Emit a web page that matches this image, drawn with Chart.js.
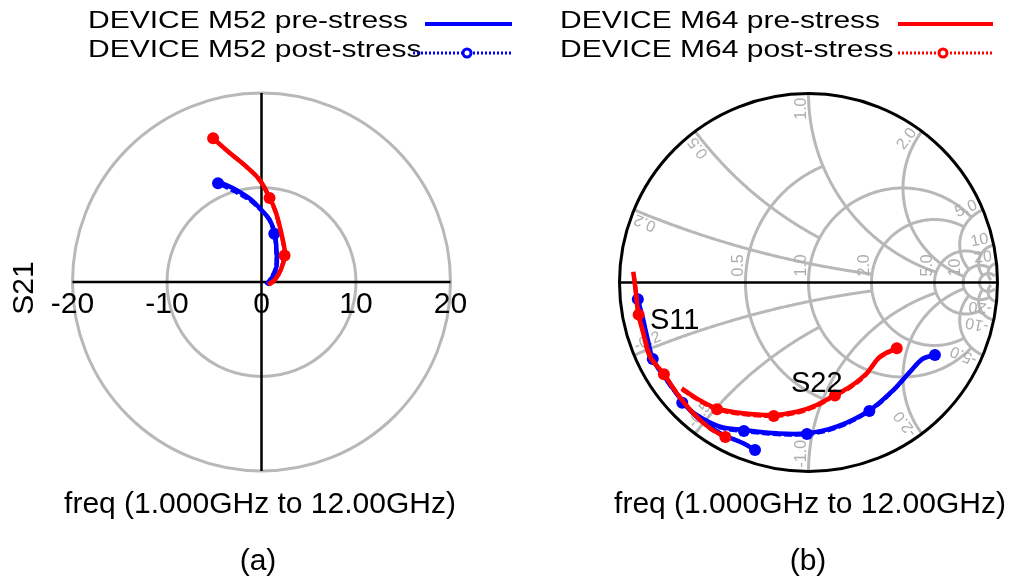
<!DOCTYPE html>
<html>
<head>
<meta charset="utf-8">
<title>S-parameters before and after stress</title>
<script src="https://cdn.jsdelivr.net/npm/chart.js@4.4.1/dist/chart.umd.min.js"></script>
<style>
  html, body { margin: 0; padding: 0; background: #fff; }
  #wrap { position: relative; width: 1015px; height: 585px; }
  #wrap canvas { position: absolute; left: 0; top: 0; }
</style>
</head>
<body>
<div id="wrap">
  <canvas id="polar" width="1015" height="585"></canvas>
  <canvas id="smith" width="1015" height="585"></canvas>
</div>
<script>
// S21 as (real, imag), 1 GHz -> 12 GHz
const s21M52Pre  = [[0.53,-0.32],[1.2,0.6],[1.59,1.62],[1.6,3.2],[1.41,5.08],[0.88,6.56],[0,7.62],[-1.06,8.68],[-2.1,9.4],[-3.0,9.92],[-4.59,10.61]];
const s21M52Post = [[0.5,-0.3],[1.15,0.65],[1.55,1.7],[1.55,3.3],[1.35,5.1],[0.8,6.6],[-0.1,7.65],[-1.15,8.6],[-2.2,9.25],[-3.15,9.75],[-4.6,10.45]];
const s21M64Pre  = [[0.74,-0.29],[1.41,0.21],[2.04,1.27],[2.47,2.78],[2.36,3.92],[1.94,5.85],[1.51,7.41],[0.88,8.89],[-0.18,10.79],[-1.59,12.2],[-3.35,13.65],[-5.12,15.2]];
const s21M64Post = [[0.72,-0.27],[1.38,0.25],[2.0,1.3],[2.44,2.8],[2.33,3.95],[1.9,5.88],[1.47,7.45],[0.85,8.9],[-0.22,10.8],[-1.62,12.22],[-3.38,13.66],[-5.12,15.2]];
const s21M52Marks = [4, 10];
const s21M64Marks = [3, 7, 11];

// S11 / S22 as reflection coefficient (re, im)
const s11M52Pre  = [[-0.901,-0.093],[-0.887,-0.15],[-0.874,-0.198],[-0.850,-0.305],[-0.821,-0.410],[-0.750,-0.516],[-0.671,-0.622],[-0.592,-0.710],[-0.468,-0.798],[-0.345,-0.851],[-0.283,-0.886]];
const s11M52Post = [[-0.903,-0.088],[-0.889,-0.146],[-0.876,-0.195],[-0.853,-0.300],[-0.824,-0.405],[-0.755,-0.512],[-0.676,-0.618],[-0.597,-0.706],[-0.472,-0.794],[-0.350,-0.848],[-0.283,-0.886]];
const s11M64Pre  = [[-0.927,0.057],[-0.913,-0.057],[-0.901,-0.163],[-0.874,-0.269],[-0.839,-0.393],[-0.768,-0.480],[-0.697,-0.586],[-0.610,-0.692],[-0.521,-0.771],[-0.442,-0.816]];
const s11M64Post = [[-0.925,0.045],[-0.911,-0.065],[-0.899,-0.170],[-0.870,-0.275],[-0.832,-0.398],[-0.765,-0.486],[-0.692,-0.590],[-0.605,-0.696],[-0.518,-0.774],[-0.440,-0.818]];
const s11M52Marks = [0, 4, 10];
const s11M64Marks = [2, 5, 9];

const s22M52Pre  = [[-0.671,-0.631],[-0.592,-0.701],[-0.468,-0.763],[-0.345,-0.780],[-0.168,-0.798],[-0.010,-0.798],[0.149,-0.763],[0.325,-0.675],[0.449,-0.569],[0.537,-0.472],[0.607,-0.401],[0.669,-0.384]];
const s22M52Post = [[-0.668,-0.636],[-0.588,-0.706],[-0.465,-0.768],[-0.342,-0.786],[-0.165,-0.803],[-0.008,-0.802],[0.150,-0.768],[0.322,-0.680],[0.445,-0.575],[0.533,-0.478],[0.603,-0.406],[0.669,-0.384]];
const s22M64Pre  = [[-0.671,-0.560],[-0.592,-0.613],[-0.486,-0.666],[-0.345,-0.692],[-0.186,-0.701],[-0.062,-0.684],[0.043,-0.648],[0.140,-0.595],[0.220,-0.551],[0.308,-0.480],[0.378,-0.393],[0.467,-0.348]];
const s22M64Post = [[-0.668,-0.566],[-0.589,-0.618],[-0.484,-0.671],[-0.343,-0.697],[-0.184,-0.706],[-0.060,-0.689],[0.045,-0.652],[0.140,-0.598],[0.222,-0.555],[0.306,-0.486],[0.373,-0.400],[0.467,-0.348]];
const s22M52Marks = [0, 3, 5, 7, 11];
const s22M64Marks = [2, 4, 7, 11];

// polar axis
const polarTicks = [-20, -10, 0, 10, 20];
const polarRings = [10, 20];

// smith grid: resistance circles / reactance arcs and where each one stops
const smithR      = [0.5, 1, 2, 5, 10, 20];
const smithRStop  = [1, 5, 5, 10, 20, 50];
const smithX      = [0.2, 0.5, 1, 2, 5, 10, 20];
const smithXStop  = [2, 1, 5, 10, 10, 20, 50];
const smithRLabel = ['0.5', '1.0', '2.0', '5.0', '10'];
const smithXLabel = ['0.2', '0.5', '1.0', '2.0', '5.0', '10', '20'];

const BLUE = '#0000ff';
const RED = '#ff0000';
const GRID = '#b8b8b8';
const FONT = '"Liberation Sans", Arial, sans-serif';

const toXY = pts => pts.map(p => ({ x: p[0], y: p[1] }));

// z = r + jx  ->  gamma = (z - 1) / (z + 1)
function gamma(r, x) {
    const den = (r + 1) * (r + 1) + x * x;
    return [(r * r - 1 + x * x) / den, (2 * x) / den];
}

function makeSet(label, pts, color, marks, post) {
    return {
        label: label,
        data: toXY(pts),
        showLine: true,
        borderColor: color,
        backgroundColor: color,
        borderWidth: post ? 4 : 4.5,
        borderDash: post ? [8, 3] : [],
        tension: 0.35,
        clip: false,
        pointRadius: ctx => (post && marks.includes(ctx.dataIndex)) ? 6 : 0,
        pointBackgroundColor: color,
        pointBorderWidth: 0
    };
}

function baseOptions(padding, range) {
    return {
        responsive: false,
        animation: false,
        events: [],
        layout: { padding: padding },
        plugins: { legend: { display: false }, tooltip: { enabled: false } },
        scales: {
            x: { type: 'linear', min: -range, max: range, display: false },
            y: { type: 'linear', min: -range, max: range, display: false }
        }
    };
}

// legend, captions and polar grid
const polarDecor = {
    id: 'polarDecor',
    beforeDatasetsDraw(chart) {
        const ctx = chart.ctx;
        const xs = chart.scales.x, ys = chart.scales.y;
        const cx = xs.getPixelForValue(0), cy = ys.getPixelForValue(0);
        ctx.save();
        ctx.lineWidth = 3;
        ctx.strokeStyle = GRID;
        polarRings.forEach(r => {
            ctx.beginPath();
            ctx.arc(cx, cy, xs.getPixelForValue(r) - cx, 0, Math.PI * 2);
            ctx.stroke();
        });
        const lo = polarTicks[0], hi = polarTicks[polarTicks.length - 1];
        ctx.strokeStyle = '#000';
        ctx.lineWidth = 2.5;
        ctx.beginPath();
        ctx.moveTo(xs.getPixelForValue(lo), cy);
        ctx.lineTo(xs.getPixelForValue(hi), cy);
        ctx.moveTo(cx, ys.getPixelForValue(hi));
        ctx.lineTo(cx, ys.getPixelForValue(lo));
        ctx.stroke();

        ctx.fillStyle = '#000';
        ctx.font = '30px ' + FONT;
        ctx.textAlign = 'center';
        ctx.textBaseline = 'alphabetic';
        polarTicks.forEach(t => ctx.fillText(String(t), xs.getPixelForValue(t), 313));

        ctx.save();
        ctx.translate(33, 288);
        ctx.rotate(-Math.PI / 2);
        ctx.fillText('S21', 0, 0);
        ctx.restore();

        ctx.fillText('freq (1.000GHz to 12.00GHz)', 260, 513);
        ctx.fillText('(a)', 258, 570);
        ctx.restore();
    },
    afterDraw(chart) {
        const ctx = chart.ctx;
        const items = [
            { text: 'DEVICE M52 pre-stress',  x: 88,  y: 28, color: BLUE, x0: 425, x1: 512, mark: 0 },
            { text: 'DEVICE M52 post-stress', x: 88,  y: 57, color: BLUE, x0: 413, x1: 512, mark: 467 },
            { text: 'DEVICE M64 pre-stress',  x: 560, y: 28, color: RED,  x0: 898, x1: 993, mark: 0 },
            { text: 'DEVICE M64 post-stress', x: 560, y: 57, color: RED,  x0: 898, x1: 993, mark: 943 }
        ];
        ctx.save();
        items.forEach(it => {
            ctx.save();
            ctx.translate(it.x, it.y);
            ctx.scale(1.25, 1);
            ctx.fillStyle = '#000';
            ctx.font = '24px ' + FONT;
            ctx.textAlign = 'left';
            ctx.fillText(it.text, 0, 0);
            ctx.restore();

            const ly = it.y - 4;
            ctx.strokeStyle = it.color;
            ctx.lineWidth = it.mark ? 3 : 4;
            ctx.setLineDash(it.mark ? [2, 2] : []);
            ctx.beginPath();
            ctx.moveTo(it.x0, ly);
            ctx.lineTo(it.x1, ly);
            ctx.stroke();
            if (it.mark) {
                ctx.setLineDash([]);
                ctx.fillStyle = '#fff';
                ctx.lineWidth = 3;
                ctx.beginPath();
                ctx.arc(it.mark, ly, 4, 0, Math.PI * 2);
                ctx.fill();
                ctx.stroke();
            }
        });
        ctx.restore();
    }
};

// smith chart grid, labels and captions
const smithDecor = {
    id: 'smithDecor',
    beforeDatasetsDraw(chart) {
        const ctx = chart.ctx;
        const xs = chart.scales.x, ys = chart.scales.y;
        const px = g => [xs.getPixelForValue(g[0]), ys.getPixelForValue(g[1])];
        const cx = xs.getPixelForValue(0), cy = ys.getPixelForValue(0);
        const R = xs.getPixelForValue(1) - cx;
        const n = 240;

        ctx.save();
        ctx.lineWidth = 3;
        ctx.strokeStyle = GRID;
        ctx.lineJoin = 'round';

        // resistance circles
        smithR.forEach((r, i) => {
            const stop = smithRStop[i];
            ctx.beginPath();
            for (let k = 0; k <= n; k++) {
                const p = px(gamma(r, -stop + 2 * stop * k / n));
                k ? ctx.lineTo(p[0], p[1]) : ctx.moveTo(p[0], p[1]);
            }
            ctx.stroke();
        });
        // reactance arcs, both signs
        smithX.forEach((x, i) => {
            const stop = smithXStop[i];
            [x, -x].forEach(xv => {
                ctx.beginPath();
                for (let k = 0; k <= n; k++) {
                    const p = px(gamma(stop * k / n, xv));
                    k ? ctx.lineTo(p[0], p[1]) : ctx.moveTo(p[0], p[1]);
                }
                ctx.stroke();
            });
        });

        // grid labels
        ctx.fillStyle = '#adadad';
        ctx.font = '16px ' + FONT;
        ctx.textBaseline = 'alphabetic';
        smithRLabel.forEach((t, i) => {
            const p = px(gamma(smithR[i], 0));
            ctx.save();
            ctx.translate(p[0] - 3, cy - 6);
            ctx.rotate(-Math.PI / 2);
            ctx.textAlign = 'left';
            ctx.fillText(t, 0, 0);
            ctx.restore();
        });
        smithXLabel.forEach((t, i) => {
            const g = gamma(0, smithX[i]);
            const e = px(g);
            // upper half: text runs outward and ends at the rim
            ctx.save();
            ctx.translate(e[0], e[1]);
            ctx.rotate(Math.atan2(-g[1], g[0]));
            ctx.textAlign = 'right';
            ctx.fillText(t, -4, -3);
            ctx.restore();
            // lower half: text starts at the rim and runs inward
            const gl = [g[0], -g[1]];
            const el = px(gl);
            ctx.save();
            ctx.translate(el[0], el[1]);
            ctx.rotate(Math.atan2(gl[1], -gl[0]));
            ctx.textAlign = 'left';
            ctx.fillText('-' + t, 4, -3);
            ctx.restore();
        });

        // rim and real axis
        ctx.strokeStyle = '#000';
        ctx.lineWidth = 3;
        ctx.beginPath();
        ctx.arc(cx, cy, R, 0, Math.PI * 2);
        ctx.stroke();
        ctx.lineWidth = 2.5;
        ctx.beginPath();
        ctx.moveTo(cx - R, cy);
        ctx.lineTo(cx + R, cy);
        ctx.stroke();

        ctx.fillStyle = '#000';
        ctx.font = '30px ' + FONT;
        ctx.textAlign = 'center';
        ctx.fillText('freq (1.000GHz to 12.00GHz)', 810, 513);
        ctx.fillText('(b)', 808, 570);
        ctx.restore();
    },
    afterDatasetsDraw(chart) {
        const ctx = chart.ctx;
        ctx.save();
        ctx.fillStyle = '#000';
        ctx.font = '29px ' + FONT;
        ctx.textAlign = 'left';
        ctx.fillText('S11', 650, 329);
        ctx.fillText('S22', 791, 392);
        ctx.restore();
    }
};

new Chart(document.getElementById('polar'), {
    type: 'scatter',
    data: {
        datasets: [
            makeSet('DEVICE M64 post-stress', s21M64Post, RED, s21M64Marks, true),
            makeSet('DEVICE M64 pre-stress', s21M64Pre, RED, [], false),
            makeSet('DEVICE M52 post-stress', s21M52Post, BLUE, s21M52Marks, true),
            makeSet('DEVICE M52 pre-stress', s21M52Pre, BLUE, [], false)
        ]
    },
    options: baseOptions({ left: 72.5, right: 564.5, top: 93, bottom: 114 }, 20),
    plugins: [polarDecor]
});

new Chart(document.getElementById('smith'), {
    type: 'scatter',
    data: {
        datasets: [
            makeSet('S11 M64 post', s11M64Post, RED, s11M64Marks, true),
            makeSet('S11 M64 pre', s11M64Pre, RED, [], false),
            makeSet('S22 M64 post', s22M64Post, RED, s22M64Marks, true),
            makeSet('S22 M64 pre', s22M64Pre, RED, [], false),
            makeSet('S11 M52 post', s11M52Post, BLUE, s11M52Marks, true),
            makeSet('S11 M52 pre', s11M52Pre, BLUE, [], false),
            makeSet('S22 M52 post', s22M52Post, BLUE, s22M52Marks, true),
            makeSet('S22 M52 pre', s22M52Pre, BLUE, [], false)
        ]
    },
    options: baseOptions({ left: 619.5, right: 17.5, top: 93.5, bottom: 113.5 }, 1),
    plugins: [smithDecor]
});
</script>
</body>
</html>
